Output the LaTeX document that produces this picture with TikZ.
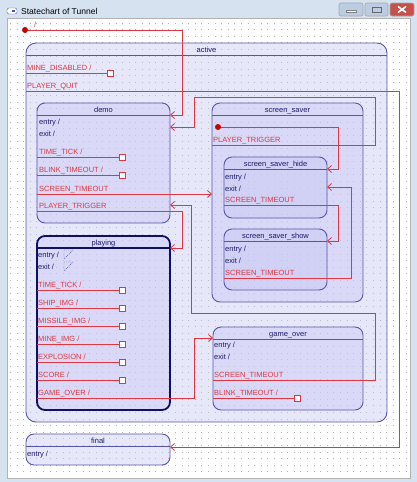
\documentclass[tikz,border=0pt]{standalone}
\usepackage{fontspec}
\setmainfont{Liberation Sans}
\usetikzlibrary{arrows.meta}

\definecolor{frame}{RGB}{214,226,240}
\definecolor{stfill}{RGB}{200,200,245}
\definecolor{stline}{RGB}{85,85,170}
\definecolor{deep}{RGB}{15,15,105}
\definecolor{trred}{RGB}{222,55,65}
\definecolor{ink}{RGB}{25,25,105}
\definecolor{initred}{RGB}{200,0,0}
\definecolor{btn}{RGB}{188,204,226}
\definecolor{closebtn}{RGB}{199,80,75}

\tikzset{
  state/.style={draw=stline, fill=stfill, fill opacity=.42, draw opacity=1,
    line width=.9pt, rounded corners=8pt, inner sep=0pt, outer sep=0pt,
    anchor=north west},
  sep/.style={draw=stline, line width=.9pt},
  txt/.style={font=\fontsize{7.5}{9}\selectfont, inner sep=0pt},
  stitle/.style={txt, text=ink, anchor=base},
  act/.style={txt, text=ink, anchor=base west},
  lbl/.style={txt, text=trred, anchor=base west},
  sq/.style={draw=trred, fill=white, line width=.8pt, minimum size=6pt, inner sep=0pt},
  tr/.style={draw=trred, line width=.8pt},
  arr/.style={tr, -{Straight Barb[length=4pt,width=7pt]}},
  init/.style={circle, fill=initred, minimum size=6pt, inner sep=0pt},
  winbtn/.style={draw=gray!70, fill=btn, rounded corners=2pt, line width=.6pt},
}

\begin{document}
\begin{tikzpicture}[x=1pt, y=-1pt]
  \useasboundingbox (0,0) rectangle (417,482);
  % window
  \fill[frame] (0,0) rectangle (417,482);
  \draw[fill=white, draw=gray!60] (7,18) rectangle (410,478);
  \draw[draw=stline, fill=white, rounded corners=2pt] (7,8) rectangle (17,14);
  \fill[stline] (12,10) rectangle (15,12);
  \node[anchor=west, font=\fontsize{8.5}{10}\selectfont, inner sep=0pt] (wintitle) at (21,11) {Statechart of Tunnel};
  \draw[winbtn] (339,3) rectangle (363,16);
  \draw[winbtn] (365,3) rectangle (388,16);
  \draw[winbtn, fill=closebtn] (390,3) rectangle (414,16);
  \draw[fill=white, draw=gray] (346,10) rectangle (356,12.5);
  \draw[draw=gray!80!black, line width=1pt] (372,7) rectangle (381,12.5);
  \draw[white, line width=1.6pt] (398,6.5) -- (406,12.5) (398,12.5) -- (406,6.5);
  % dotted grid
  \foreach \y in {23,29.6,...,476}
    \draw[gray!60, line width=.8pt, dash pattern=on .8pt off 5.8pt] (10,\y) -- (408,\y);

  % states
  \node[state, rounded corners=10pt, minimum width=361pt, minimum height=379pt] (active) at (26,43) {};
  \node[state, minimum width=133pt, minimum height=120pt] (demo) at (37,103) {};
  \node[state, minimum width=151pt, minimum height=199pt] (saver) at (212,103) {};
  \node[state, minimum width=103pt, minimum height=61pt] (hide) at (224,157) {};
  \node[state, minimum width=103pt, minimum height=61pt] (show) at (224,229) {};
  \node[state, draw=deep, line width=1.8pt, minimum width=133pt, minimum height=174pt] (playing) at (37,236) {};
  \node[state, minimum width=150pt, minimum height=83pt] (over) at (213,327) {};
  \node[state, minimum width=144pt, minimum height=31pt] (final) at (26,434) {};

  \foreach \s/\t in {active/active, demo/demo, saver/screen\_saver, hide/screen\_saver\_hide,
                     show/screen\_saver\_show, playing/playing, over/game\_over, final/final} {
    \node[stitle] (\s-t) at ([yshift=-9pt]\s.north) {\t};
    \draw[sep] ([yshift=-12pt]\s.north west) -- ([yshift=-12pt]\s.north east);
  }
  \draw[sep, draw=deep, line width=1.2pt] ([yshift=-12pt]playing.north west) -- ([yshift=-12pt]playing.north east);

  % active
  \node[lbl] (act-md) at (27,70) {MINE\_DISABLED /};
  \node[sq] (act-q) at (110,73) {};
  \draw[tr] (active.west |- act-q) -- (act-q);
  \node[lbl] (act-pq) at (27,88) {PLAYER\_QUIT};

  % demo
  \node[act] (demo-en) at (39,124) {entry /};
  \node[act] (demo-ex) at (39,136) {exit /};
  \node[lbl] (demo-tt) at (39,154) {TIME\_TICK /};
  \node[sq] (demo-q1) at (122,157) {};
  \node[lbl] (demo-bt) at (39,172) {BLINK\_TIMEOUT /};
  \node[sq] (demo-q2) at (122,175) {};
  \draw[tr] (demo.west |- demo-q1) -- (demo-q1)
            (demo.west |- demo-q2) -- (demo-q2);
  \node[lbl] (demo-st) at (39,191) {SCREEN\_TIMEOUT};
  \node[lbl] (demo-pt) at (39,208) {PLAYER\_TRIGGER};

  % screen_saver
  \node[init] (saver-init) at (218,127) {};
  \node[lbl] (saver-pt) at (213,142) {PLAYER\_TRIGGER};
  \node[act] (hide-en) at (225,179) {entry /};
  \node[act] (hide-ex) at (225,191) {exit /};
  \node[lbl] (hide-st) at (225,202) {SCREEN\_TIMEOUT};
  \node[act] (show-en) at (225,251) {entry /};
  \node[act] (show-ex) at (225,263) {exit /};
  \node[lbl] (show-st) at (225,275) {SCREEN\_TIMEOUT};

  % playing
  \node[act] (play-en) at (38,257) {entry /};
  \node[act] (play-ex) at (38,269) {exit /};
  \draw[gray!70!blue, dash pattern=on 1pt off 1pt] (64,250) -- (73,250) -- (64,259) -- cycle
                                               (64,262) -- (73,262) -- (64,271) -- cycle;
  \foreach \lab [count=\i, evaluate=\i as \yy using 272+18*\i] in
      {TIME\_TICK, SHIP\_IMG, MISSILE\_IMG, MINE\_IMG, EXPLOSION, SCORE} {
    \node[lbl] (play-l\i) at (38,{\yy-3}) {\lab\ /};
    \node[sq] (play-q\i) at (122,\yy) {};
    \draw[tr] (playing.west |- play-q\i) -- (play-q\i);
  }
  \node[lbl] (play-go) at (38,395) {GAME\_OVER /};

  % game_over
  \node[act] (over-en) at (214,347) {entry /};
  \node[act] (over-ex) at (214,359) {exit /};
  \node[lbl] (over-st) at (214,377) {SCREEN\_TIMEOUT};
  \node[lbl] (over-bt) at (214,395) {BLINK\_TIMEOUT /};
  \node[sq] (over-q) at (297,398) {};
  \draw[tr] (over.west |- over-q) -- (over-q);

  % final
  \node[act] (final-en) at (27,456) {entry /};

  % transitions
  \node[init] (init) at (25,30) {};
  \node[lbl] (init-l) at (34,27) {/};
  \coordinate (act-out) at (26,91);
  \coordinate (demo-out1) at (37,194);
  \coordinate (demo-out2) at (37,211);
  \coordinate (saver-out) at (212,145);
  \coordinate (hide-out) at (224,205);
  \coordinate (show-out) at (224,278);
  \coordinate (play-out) at (37,398);
  \coordinate (over-out) at (213,380);
  \coordinate (demo-in1) at (170,115);
  \coordinate (demo-in2) at (170,127);
  \coordinate (demo-in3) at (170,205);
  \coordinate (saver-in) at (212,194);
  \coordinate (hide-in1) at (327,169);
  \coordinate (hide-in2) at (327,187);
  \coordinate (show-in) at (327,241);
  \coordinate (play-in) at (170,248);
  \coordinate (over-in) at (213,338);
  \coordinate (final-in) at (170,447);

  \draw[arr] (init) -| ([xshift=12pt]demo-in1) -- (demo-in1);
  \draw[arr] (saver-out) -| (375,97) -| ([xshift=24pt]demo-in2) -- (demo-in2);
  \draw[arr] (demo-out1) -- (saver-in);
  \draw[arr] (demo-out2) -| ([xshift=12pt]play-in) -- (play-in);
  \draw[arr] (saver-init) -| ([xshift=11pt]hide-in1) -- (hide-in1);
  \draw[arr] (hide-out) -| ([xshift=11pt]show-in) -- (show-in);
  \draw[arr] (show-out) -| ([xshift=24pt]hide-in2) -- (hide-in2);
  \draw[arr] (over-out) -| (375,313) -| ([xshift=21pt]demo-in3) -- (demo-in3);
  \draw[arr] (play-out) -| ([xshift=-19pt]over-in) -- (over-in);
  \draw[arr] (act-out) -| ([xshift=229pt]final-in) -- (final-in);
\end{tikzpicture}
\end{document}
